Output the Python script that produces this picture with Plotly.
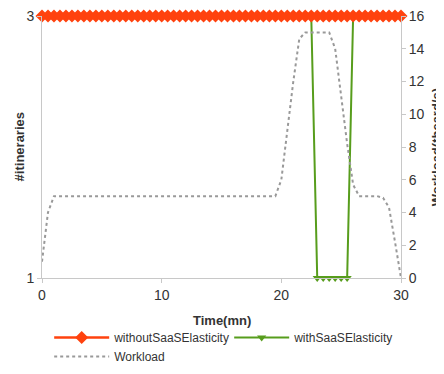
import plotly.graph_objects as go

time_mn = [0, 0.5, 1, 1.5, 2, 2.5, 3, 3.5, 4, 4.5, 5, 5.5, 6, 6.5, 7, 7.5, 8, 8.5, 9, 9.5,
           10, 10.5, 11, 11.5, 12, 12.5, 13, 13.5, 14, 14.5, 15, 15.5, 16, 16.5, 17, 17.5, 18, 18.5, 19, 19.5,
           20, 20.5, 21, 21.5, 22, 22.5, 23, 23.5, 24, 24.5, 25, 25.5, 26, 26.5, 27, 27.5, 28, 28.5, 29, 29.5, 30]

without_elasticity = [3, 3, 3, 3, 3, 3, 3, 3, 3, 3, 3, 3, 3, 3, 3, 3, 3, 3, 3, 3,
                      3, 3, 3, 3, 3, 3, 3, 3, 3, 3, 3, 3, 3, 3, 3, 3, 3, 3, 3, 3,
                      3, 3, 3, 3, 3, 3, 3, 3, 3, 3, 3, 3, 3, 3, 3, 3, 3, 3, 3, 3, 3]

with_elasticity = [3, 3, 3, 3, 3, 3, 3, 3, 3, 3, 3, 3, 3, 3, 3, 3, 3, 3, 3, 3,
                   3, 3, 3, 3, 3, 3, 3, 3, 3, 3, 3, 3, 3, 3, 3, 3, 3, 3, 3, 3,
                   3, 3, 3, 3, 3, 3, 1, 1, 1, 1, 1, 1, 3, 3, 3, 3, 3, 3, 3, 3, 3]

workload = [1, 4, 5, 5, 5, 5, 5, 5, 5, 5, 5, 5, 5, 5, 5, 5, 5, 5, 5, 5,
            5, 5, 5, 5, 5, 5, 5, 5, 5, 5, 5, 5, 5, 5, 5, 5, 5, 5, 5, 5,
            6, 9, 12, 14.6, 15, 15, 15, 15, 15, 14, 11, 8.2, 5.7, 5, 5, 5, 5, 4.9, 4.3, 2.2, 0]

left_ticks = [1, 3]
right_ticks = [0, 2, 4, 6, 8, 10, 12, 14, 16]
x_ticks = [0, 10, 20, 30]

RED = "#ff420e"
GREEN = "#579d1c"
GREY = "#999999"
FONT = "Liberation Sans"

fig = go.Figure()
fig.add_trace(go.Scatter(
    x=time_mn, y=workload, name="Workload", yaxis="y2", mode="lines",
    line=dict(color=GREY, width=2, dash="dot"), legendrank=3, cliponaxis=False))
fig.add_trace(go.Scatter(
    x=time_mn, y=with_elasticity, name="withSaaSElasticity", mode="lines+markers",
    line=dict(color=GREEN, width=2), marker=dict(symbol="triangle-down", size=8, color=GREEN),
    legendrank=2, cliponaxis=False))
fig.add_trace(go.Scatter(
    x=time_mn, y=without_elasticity, name="withoutSaaSElasticity", mode="lines+markers",
    line=dict(color=RED, width=2.5), marker=dict(symbol="diamond", size=10, color=RED),
    legendrank=1, cliponaxis=False))

axis_common = dict(showgrid=False, zeroline=False, showline=True, linecolor="#c8c8c8", linewidth=1,
                   ticks="outside", tickcolor="#c8c8c8", ticklen=4, automargin=False,
                   ticklabeloverflow="allow",
                   tickfont=dict(family=FONT, size=14, color="#333333"))

fig.update_layout(
    width=436, height=366,
    margin=dict(l=34, r=43, t=8, b=96, autoexpand=False),
    paper_bgcolor="white", plot_bgcolor="white",
    font=dict(family=FONT, size=12, color="#333333"),
    xaxis=dict(range=[0, 30], tickvals=x_ticks, **axis_common),
    yaxis=dict(range=[1, 3], tickvals=left_ticks, **axis_common),
    yaxis2=dict(range=[0, 16], tickvals=right_ticks, overlaying="y", side="right", **axis_common),
    showlegend=True,
    legend=dict(orientation="h", x=0.02, xanchor="left", y=-0.172, yanchor="top",
                font=dict(family=FONT, size=12, color="#333333"),
                tracegroupgap=0, itemwidth=55, entrywidth=110, bgcolor="rgba(0,0,0,0)"),
    annotations=[
        dict(text="<b>Time(mn)</b>", xref="paper", yref="paper", x=0.5, y=-0.162,
             yanchor="middle", showarrow=False, font=dict(family=FONT, size=13, color="#333333")),
        dict(text="<b>#itineraries</b>", xref="paper", x=-0.063, xanchor="center",
             yref="paper", y=0.5, textangle=-90, showarrow=False,
             font=dict(family=FONT, size=13, color="#333333")),
        dict(text="<b>Workload(theard/s)</b>", xref="paper", x=1.098, xanchor="center",
             yref="paper", y=0.5, textangle=-90, showarrow=False,
             font=dict(family=FONT, size=13, color="#333333")),
    ],
)

fig.write_html("out.html")
